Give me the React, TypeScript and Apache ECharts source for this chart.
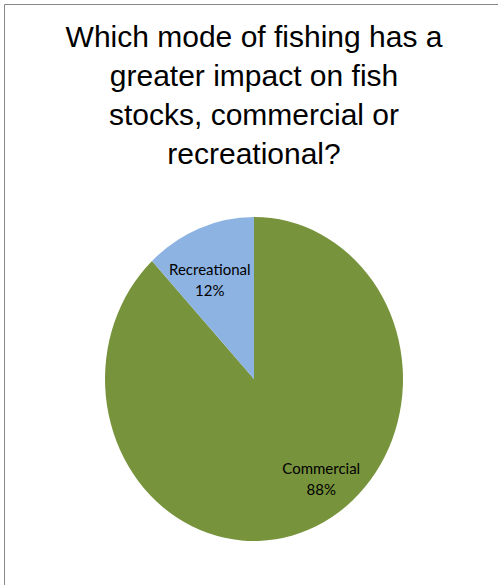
import React, { useEffect, useRef } from "react";
import * as echarts from "echarts";

const titleLines = [
  "Which mode of fishing has a",
  "greater impact on fish",
  "stocks, commercial or",
  "recreational?",
];
const categories = ["Commercial", "Recreational"];
const values = [88, 12];
const percentLabels = ["88%", "12%"];
const colors = ["#77933C", "#8DB3E2"];

export default function App() {
  const ref = useRef<HTMLDivElement>(null);

  useEffect(() => {
    document.body.style.margin = "0";
    if (!ref.current) return;
    const chart = echarts.init(ref.current, undefined, { renderer: "svg" });

    const total = values.reduce((a, b) => a + b, 0);
    const cx = 254;
    const cy = 379;
    const rx = 149;
    const ry = 162;
    const labelFrac = 0.66;
    const labelShiftX = [31, -8];

    const option: any = {
      animation: false,
      backgroundColor: "#ffffff",
      graphic: [
        {
          type: "line",
          shape: { x1: 4.5, y1: 4.5, x2: 498, y2: 4.5 },
          style: { stroke: "#888888", lineWidth: 1 },
        },
        {
          type: "line",
          shape: { x1: 4.5, y1: 4.5, x2: 4.5, y2: 585 },
          style: { stroke: "#888888", lineWidth: 1 },
        },
        {
          type: "text",
          x: 254,
          y: 17,
          style: {
            text: titleLines.join("\n"),
            font: '30px "Liberation Sans", Arial, sans-serif',
            fill: "#000000",
            textAlign: "center",
            textVerticalAlign: "top",
            lineHeight: 39,
          },
        },
      ],
      series: [
        {
          type: "custom",
          coordinateSystem: "none",
          data: categories.map((name, i) => ({ name, value: values[i] })),
          renderItem: (params: any, api: any) => {
            const i = params.dataIndex;
            let before = 0;
            for (let k = 0; k < i; k++) before += values[k];
            const v = api.value(0);
            const start = -Math.PI / 2 + (2 * Math.PI * before) / total;
            const end = start + (2 * Math.PI * v) / total;
            const mid = (start + end) / 2;
            const lx = cx + Math.cos(mid) * rx * labelFrac + labelShiftX[i];
            const ly = cy + Math.sin(mid) * ry * labelFrac;
            return {
              type: "group",
              children: [
                {
                  type: "group",
                  x: cx,
                  y: cy,
                  scaleY: ry / rx,
                  children: [
                    {
                      type: "sector",
                      shape: {
                        cx: 0,
                        cy: 0,
                        r0: 0,
                        r: rx,
                        startAngle: start,
                        endAngle: end,
                        clockwise: true,
                      },
                      style: { fill: colors[i] },
                    },
                  ],
                },
                {
                  type: "text",
                  x: lx,
                  y: ly,
                  style: {
                    text: categories[i] + "\n" + percentLabels[i],
                    font: '15px Lato, "Open Sans", sans-serif',
                    fill: "#000000",
                    textAlign: "center",
                    textVerticalAlign: "middle",
                    lineHeight: 21,
                  },
                },
              ],
            };
          },
        },
      ],
    };

    chart.setOption(option);
    return () => chart.dispose();
  }, []);

  return <div ref={ref} style={{ width: 498, height: 585 }} />;
}
